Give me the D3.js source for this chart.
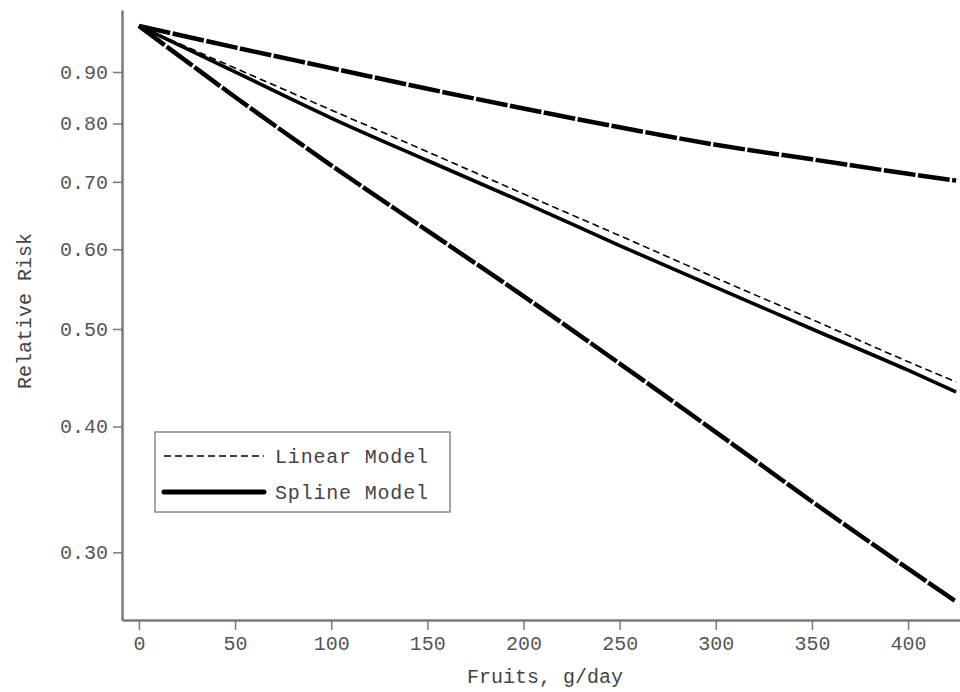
<!DOCTYPE html>
<html>
<head>
<meta charset="utf-8">
<script src="https://cdn.jsdelivr.net/npm/d3@7"></script>
<style>
  body { margin: 0; background: #fff; }
  svg { display: block; }
  .axis path, .axis line { stroke: #7a7a7a; }
  .axis text { fill: #555; font-family: "Liberation Mono", "DejaVu Sans Mono", monospace; font-size: 20px; }
  .label { fill: #444; font-family: "Liberation Mono", "DejaVu Sans Mono", monospace; font-size: 20px; }
</style>
</head>
<body>
<svg id="chart" width="960" height="692"></svg>
<script>
// fruit intake (g/day) where the curves were read
var fruitIntake = [0, 50, 100, 150, 200, 250, 300, 350, 400, 425];

// relative risk
var linearRR = [1.0, 0.908, 0.825, 0.750, 0.681, 0.619, 0.562, 0.511, 0.464, 0.443];
var splineRR = [1.0, 0.900, 0.810, 0.735, 0.668, 0.605, 0.550, 0.500, 0.455, 0.433];
var upperRR  = [1.0, 0.952, 0.908, 0.866, 0.828, 0.793, 0.762, 0.737, 0.713, 0.702];
var lowerRR  = [1.0, 0.850, 0.727, 0.626, 0.539, 0.462, 0.395, 0.337, 0.289, 0.268];

var xTicks = [0, 50, 100, 150, 200, 250, 300, 350, 400];
var yTicks = [0.30, 0.40, 0.50, 0.60, 0.70, 0.80, 0.90];

var legendItems = ["Linear Model", "Spline Model"];

var svg = d3.select("#chart"),
  plotLeft = 122, plotRight = 960, plotTop = 10, plotBottom = 620;

var x = d3.scaleLinear()
  .domain([-8.8, 427])
  .range([plotLeft, plotRight]);

var y = d3.scaleLog()
  .domain([0.257, 1.037])
  .range([plotBottom, plotTop]);

function series(vals) {
  return fruitIntake.map(function(d, i) { return {x: d, y: vals[i]}; });
}

var line = d3.line()
  .x(function(d) { return x(d.x); })
  .y(function(d) { return y(d.y); })
  .curve(d3.curveMonotoneX);

// axes
var xAxis = svg.append("g")
  .attr("class", "axis")
  .attr("transform", "translate(0," + plotBottom + ")")
  .call(d3.axisBottom(x).tickValues(xTicks).tickSize(10).tickSizeOuter(0).tickPadding(6));
xAxis.select(".domain").attr("stroke-width", 2.5);
xAxis.selectAll(".tick line").attr("stroke-width", 1.5);

var yAxis = svg.append("g")
  .attr("class", "axis")
  .attr("transform", "translate(" + plotLeft + ",0)")
  .call(d3.axisLeft(y).tickValues(yTicks).tickFormat(d3.format(".2f")).tickSize(9).tickSizeOuter(0).tickPadding(5));
yAxis.select(".domain").attr("stroke-width", 2.5);
yAxis.selectAll(".tick line").attr("stroke-width", 1.5);

// curves
var curves = [
  {data: lowerRR, width: 4.5, dash: "32,2.5"},
  {data: upperRR, width: 4.5, dash: "32,2.5"},
  {data: splineRR, width: 3.6, dash: null},
  {data: linearRR, width: 1.6, dash: "7,4"}
];

svg.append("g")
  .selectAll("path")
  .data(curves)
  .enter().append("path")
  .attr("d", function(d) { return line(series(d.data)); })
  .attr("fill", "none")
  .attr("stroke", "#000")
  .attr("stroke-width", function(d) { return d.width; })
  .attr("stroke-dasharray", function(d) { return d.dash; });

// axis titles
svg.append("text")
  .attr("class", "label")
  .attr("x", 545)
  .attr("y", 683)
  .attr("text-anchor", "middle")
  .text("Fruits, g/day");

svg.append("text")
  .attr("class", "label")
  .attr("transform", "translate(31,311) rotate(-90)")
  .attr("text-anchor", "middle")
  .text("Relative Risk");

// legend
var legend = svg.append("g");
legend.append("rect")
  .attr("x", 155).attr("y", 432)
  .attr("width", 295).attr("height", 80)
  .attr("fill", "#fff")
  .attr("stroke", "#888")
  .attr("stroke-width", 1.5);

var legendStyle = [{width: 1.6, dash: "7,4"}, {width: 5, dash: null}];

legend.selectAll("line")
  .data(legendItems)
  .enter().append("line")
  .attr("x1", 164).attr("x2", 264)
  .attr("y1", function(d, i) { return 456 + i * 36; })
  .attr("y2", function(d, i) { return 456 + i * 36; })
  .attr("stroke", "#000")
  .attr("stroke-linecap", function(d, i) { return i ? "round" : "butt"; })
  .attr("stroke-width", function(d, i) { return legendStyle[i].width; })
  .attr("stroke-dasharray", function(d, i) { return legendStyle[i].dash; });

legend.selectAll("text")
  .data(legendItems)
  .enter().append("text")
  .attr("class", "label")
  .attr("x", 275)
  .attr("y", function(d, i) { return 463 + i * 36; })
  .attr("textLength", 153)
  .text(function(d) { return d; });
</script>
</body>
</html>
